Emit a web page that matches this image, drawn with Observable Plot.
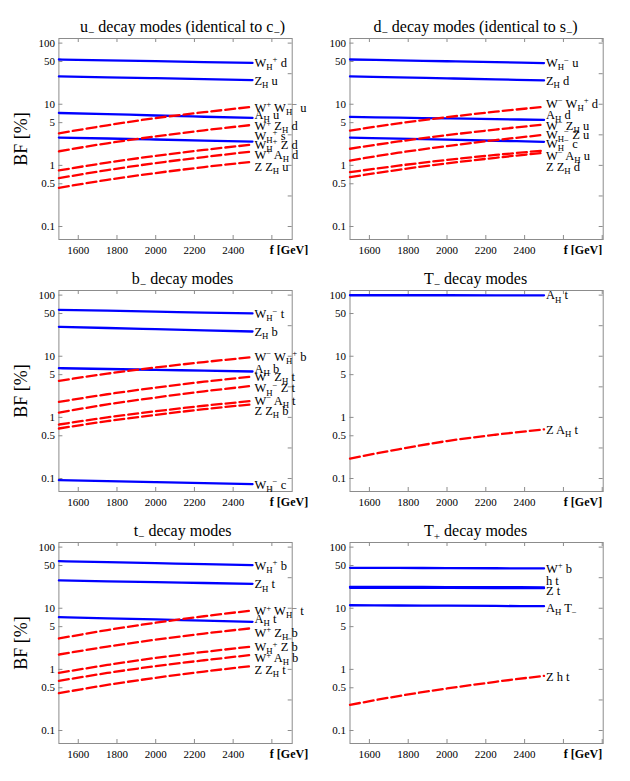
<!DOCTYPE html>
<html>
<head>
<meta charset="utf-8">
<script src="https://cdn.jsdelivr.net/npm/d3@7"></script>
<script src="https://cdn.jsdelivr.net/npm/@observablehq/plot@0.6"></script>
<style>
  html, body { margin: 0; padding: 0; background: #fff; }
  #wrap { position: relative; width: 630px; height: 781px; background: #fff; }
  .panel { position: absolute; }
  .panel svg, .panel svg text, .panel svg tspan { font-family: "Liberation Serif", "Times New Roman", serif !important; }
</style>
</head>
<body>
<div id="wrap"></div>
<script>
// ---------- data ----------
const fGrid = [1500, 1750, 2000, 2250, 2500];       // f [GeV]
const xTickLabels = [1600, 1800, 2000, 2200, 2400];
const yTickLabels = [0.1, 0.5, 1, 5, 10, 50, 100];

// u- decay modes (identical to c-)
const uModes = ["W_H^+ d", "Z_H u", "A_H u", "W_H^+ s", "W^+ W_H^- u", "W^+ Z_H d", "W_H^+ Z d", "W^+ A_H d", "Z Z_H u"];
const uType  = ["two-body", "two-body", "two-body", "two-body", "three-body", "three-body", "three-body", "three-body", "three-body"];
const uBF = [
  [54.0, 52.3, 50.6, 49.0, 47.5],
  [28.5, 27.6, 26.7, 25.8, 24.9],
  [7.2, 6.9, 6.55, 6.25, 5.97],
  [2.85, 2.75, 2.65, 2.55, 2.45],
  [3.35, 4.53, 5.95, 7.41, 9.1],
  [1.70, 2.30, 2.98, 3.75, 4.6],
  [0.826, 1.11, 1.43, 1.79, 2.19],
  [0.618, 0.837, 1.09, 1.37, 1.69],
  [0.43, 0.579, 0.749, 0.939, 1.15]
];
const uLabelAt = [47.7, 24.3, 6.7, 3.07, 8.7, 4.36, 2.19, 1.49, 0.935];

// d- decay modes (identical to s-)
const dModes = ["W_H^- u", "Z_H d", "A_H d", "W_H^- c", "W^- W_H^+ d", "W^- Z_H u", "W_H^- Z u", "W^- A_H u", "Z Z_H d"];
const dType  = ["two-body", "two-body", "two-body", "two-body", "three-body", "three-body", "three-body", "three-body", "three-body"];
const dBF = [
  [54.0, 52.2, 50.5, 48.8, 47.2],
  [28.5, 27.5, 26.5, 25.5, 24.5],
  [6.2, 6.03, 5.87, 5.71, 5.55],
  [2.85, 2.74, 2.63, 2.53, 2.43],
  [3.71, 4.86, 6.14, 7.55, 9.1],
  [1.87, 2.46, 3.12, 3.85, 4.65],
  [1.20, 1.61, 2.07, 2.59, 3.16],
  [0.775, 0.99, 1.23, 1.48, 1.75],
  [0.642, 0.847, 1.077, 1.33, 1.61]
];
const dLabelAt = [47.2, 24.3, 6.7, 2.25, 10.1, 4.47, 3.19, 1.44, 0.935];

// b- decay modes
const bModes = ["W_H^- t", "Z_H b", "A_H b", "W_H^- c", "W^- W_H^+ b", "W^- Z_H t", "W_H^- Z t", "W^- A_H t", "Z Z_H b"];
const bType  = ["two-body", "two-body", "two-body", "two-body", "three-body", "three-body", "three-body", "three-body", "three-body"];
const bBF = [
  [57.5, 55.6, 53.7, 51.9, 50.1],
  [30.3, 29.0, 27.8, 26.6, 25.4],
  [6.38, 6.19, 6.0, 5.81, 5.63],
  [0.0938, 0.0904, 0.0871, 0.0839, 0.0807],
  [3.96, 5.19, 6.55, 8.04, 9.67],
  [1.79, 2.39, 3.07, 3.83, 4.67],
  [1.20, 1.63, 2.11, 2.67, 3.28],
  [0.764, 1.0, 1.26, 1.55, 1.86],
  [0.658, 0.867, 1.10, 1.36, 1.64]
];
const bLabelAt = [48.9, 25.1, 6.3, 0.0796, 9.8, 4.61, 2.97, 1.87, 1.28];

// T- decay modes
const TmModes = ["A_H t", "Z A_H t"];
const TmType  = ["two-body", "three-body"];
const TmBF = [
  [99.6, 99.5, 99.5, 99.4, 99.4],
  [0.212, 0.30, 0.41, 0.52, 0.637]
];
const TmLabelAt = [99, 0.62];

// t- decay modes
const tModes = ["W_H^+ b", "Z_H t", "A_H t", "W^+ W_H^- t", "W^+ Z_H b", "W_H^+ Z b", "W^+ A_H b", "Z Z_H t"];
const tType  = ["two-body", "two-body", "two-body", "three-body", "three-body", "three-body", "three-body", "three-body"];
const tBF = [
  [59.0, 56.8, 54.7, 52.7, 50.7],
  [28.5, 27.6, 26.8, 25.9, 25.1],
  [7.15, 6.85, 6.56, 6.27, 6.0],
  [3.2, 4.40, 5.80, 7.40, 9.2],
  [1.75, 2.36, 3.06, 3.86, 4.73],
  [0.877, 1.18, 1.54, 1.93, 2.37],
  [0.649, 0.873, 1.13, 1.41, 1.73],
  [0.408, 0.557, 0.728, 0.922, 1.14]
];
const tLabelAt = [49.5, 24.5, 6.7, 8.97, 3.96, 2.31, 1.52, 0.995];

// T+ decay modes
const TpModes = ["W^+ b", "h t", "Z t", "A_H T_-", "Z h t"];
const TpType  = ["two-body", "two-body", "two-body", "two-body", "three-body"];
const TpBF = [
  [45.9, 45.6, 45.4, 45.1, 44.8],
  [22.4, 22.3, 22.2, 22.1, 22.0],
  [21.6, 21.5, 21.5, 21.4, 21.3],
  [11.2, 11.1, 11.0, 10.9, 10.8],
  [0.263, 0.366, 0.487, 0.626, 0.784]
];
const TpLabelAt = [44.2, 27.4, 18.8, 10.2, 0.764];

// ---------- layout ----------
const FONT = "Liberation Serif";
const BLUE = "#0000ff", RED = "#ff0000", FRAME = "#8c8c8c";
const yDomain = [0.0613, 119];
const labelF = 2510;
const cols = [
  {x0: 0,   w: 315, fl: 58.4,  fr: 291.7, xmax: 2705, titleDx: 7,  gevDx: 16, ylabel: true},
  {x0: 315, w: 315, fl: 349.5, fr: 602.7, xmax: 2805, titleDx: -1, gevDx: -1, ylabel: false}
];
const rows = [
  {y0: 0,   h: 255, ft: 38,  fb: 239},
  {y0: 255, h: 255, ft: 290, fb: 491},
  {y0: 510, h: 271, ft: 542, fb: 743}
];

const panels = [
  {title: "u_- decay modes (identical to c_-)", modes: uModes, type: uType, bf: uBF, at: uLabelAt, r: 0, c: 0},
  {title: "d_- decay modes (identical to s_-)", modes: dModes, type: dType, bf: dBF, at: dLabelAt, r: 0, c: 1},
  {title: "b_- decay modes", modes: bModes, type: bType, bf: bBF, at: bLabelAt, r: 1, c: 0},
  {title: "T_- decay modes", modes: TmModes, type: TmType, bf: TmBF, at: TmLabelAt, r: 1, c: 1},
  {title: "t_- decay modes", modes: tModes, type: tType, bf: tBF, at: tLabelAt, r: 2, c: 0},
  {title: "T_+ decay modes", modes: TpModes, type: TpType, bf: TpBF, at: TpLabelAt, r: 2, c: 1}
];

// convert "_X" (subscript) and "^X" (superscript) markup into tspans
function richify(svg) {
  d3.select(svg).selectAll("text").each(function () {
    const s = this.textContent;
    if (!/[_^]/.test(s)) return;
    const segs = [];
    for (let i = 0; i < s.length; i++) {
      const ch = s[i];
      if ((ch === "_" || ch === "^") && i + 1 < s.length) {
        let g = s[i + 1];
        if (g === "-") g = "\u2212";
        segs.push({t: g, k: ch === "_" ? "sub" : "sup"});
        i++;
      } else if (segs.length && segs[segs.length - 1].k === "n") {
        segs[segs.length - 1].t += ch;
      } else {
        segs.push({t: ch, k: "n"});
      }
    }
    this.textContent = "";
    const sel = d3.select(this);
    let cur = 0;
    for (const g of segs) {
      const target = g.k === "sub" ? 0.25 : g.k === "sup" ? -0.36 : 0;
      const scale = g.k === "n" ? 1 : 0.7;
      const ts = sel.append("tspan").text(g.t);
      if (scale !== 1) ts.attr("font-size", "70%");
      const dy = (target - cur) / scale;
      if (Math.abs(dy) > 1e-6) ts.attr("dy", dy.toFixed(3) + "em");
      cur = target;
    }
  });
  d3.select(svg).selectAll("text, tspan").style("font-family", "'Liberation Serif', 'Times New Roman', serif");
}

const wrap = document.getElementById("wrap");

for (const p of panels) {
  const col = cols[p.c], row = rows[p.r];
  const mL = col.fl - col.x0, mR = col.x0 + col.w - col.fr;
  const mT = row.ft - row.y0, mB = row.y0 + row.h - row.fb;
  const fw = col.fr - col.fl, fh = row.fb - row.ft;

  const data = [];
  p.modes.forEach((m, i) => fGrid.forEach((f, j) => data.push({mode: m, type: p.type[i], f, bf: p.bf[i][j]})));
  const labels = p.modes.map((m, i) => ({mode: m, at: p.at[i]}));

  const xTicks = d3.range(1600, col.xmax, 200);
  const yRight = [0.1, 0.316, 1, 3.16, 10, 31.6, 100];

  const marks = [
    // inward frame ticks
    Plot.tickX(xTicks, {x: d => d, stroke: FRAME, insetTop: fh - 4}),
    Plot.tickX(xTicks, {x: d => d, stroke: FRAME, insetBottom: fh - 4}),
    Plot.tickY(yTickLabels, {y: d => d, stroke: FRAME, insetRight: fw - 4}),
    Plot.tickY(yRight, {y: d => d, stroke: FRAME, insetLeft: fw - 4}),
    Plot.frame({stroke: FRAME, strokeWidth: 1}),
    // tick labels
    Plot.text(xTickLabels, {x: d => d, text: d => String(d), frameAnchor: "bottom", dy: 11, lineAnchor: "middle", fontSize: 11, fill: "black"}),
    Plot.text(yTickLabels, {y: d => d, text: d => String(d), frameAnchor: "left", textAnchor: "end", dx: -4, fontSize: 11, fill: "black"}),
    // series
    Plot.line(data.filter(d => d.type === "two-body"), {x: "f", y: "bf", z: "mode", stroke: BLUE, strokeWidth: 2.3, curve: "monotone-x"}),
    Plot.line(data.filter(d => d.type === "three-body"), {x: "f", y: "bf", z: "mode", stroke: RED, strokeWidth: 2.3, strokeDasharray: "10,4", curve: "monotone-x"}),
    // series labels
    Plot.text(labels, {x: () => labelF, y: "at", text: "mode", textAnchor: "start", lineAnchor: "middle", fontSize: 12.5, fill: "black"}),
    // title
    Plot.text([p.title], {text: d => d, frameAnchor: "top", dy: -12, dx: col.titleDx, lineAnchor: "middle", fontSize: 16, fill: "black"}),
    // x label
    Plot.text(["f [GeV]"], {text: d => d, frameAnchor: "bottom-right", textAnchor: "end", dx: col.gevDx, dy: 11, lineAnchor: "middle", fontSize: 12, fontWeight: "bold", fill: "black"})
  ];
  if (col.ylabel) {
    marks.push(Plot.text(["BF [%]"], {text: d => d, frameAnchor: "left", dx: -38, rotate: -90, textAnchor: "middle", lineAnchor: "middle", fontSize: 18, fill: "black"}));
  }

  const svg = Plot.plot({
    width: col.w,
    height: row.h,
    marginLeft: mL, marginRight: mR, marginTop: mT, marginBottom: mB,
    x: {type: "linear", domain: [1500, col.xmax], axis: null},
    y: {type: "log", domain: yDomain, axis: null},
    style: {fontFamily: FONT, background: "white", overflow: "visible", color: "black"},
    marks
  });
  richify(svg);

  const div = document.createElement("div");
  div.className = "panel";
  div.style.left = col.x0 + "px";
  div.style.top = row.y0 + "px";
  div.appendChild(svg);
  wrap.appendChild(div);
}
</script>
</body>
</html>
